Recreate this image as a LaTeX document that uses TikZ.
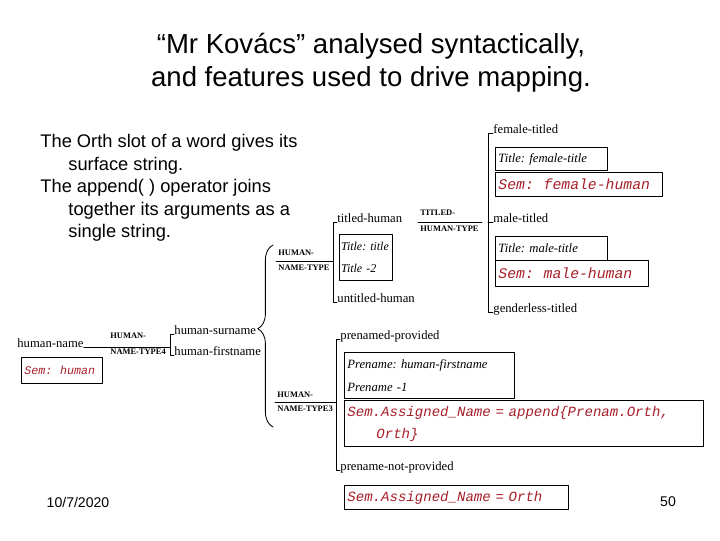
\documentclass[tikz,border=0pt]{standalone}
\usepackage{fontspec}
\setmainfont{Liberation Serif}
\setsansfont{Liberation Sans}
\setmonofont{Liberation Mono}
\usetikzlibrary{calc,decorations.pathreplacing}
\definecolor{semred}{RGB}{165,30,40}

\begin{document}
\frenchspacing
\begin{tikzpicture}[x=0.025cm, y=-0.025cm, line cap=round, line join=round, line width=0.6pt]
  \useasboundingbox (0,0) rectangle (720,540);
  \tikzset{
    lab/.style={anchor=west, inner sep=0pt, font=\fontsize{9}{11}\selectfont},
    typ/.style={anchor=west, inner sep=0pt, font=\fontsize{6}{7}\selectfont\bfseries},
    slot/.style={draw, anchor=north west, inner xsep=0.075cm, inner ysep=0pt, align=left,
      font=\fontsize{9}{16.3}\selectfont\itshape},
    sem/.style={slot, text=semred, font=\ttfamily\itshape\fontsize{#1}{15.6}\selectfont},
    sem/.default=10.5,
    big/.style={font=\sffamily\fontsize{13}{16}\selectfont}
  }

  % --- title and notes
  \node[font=\sffamily\fontsize{19.6}{23.4}\selectfont, align=center] (title) at (371,63)
    {“Mr Kovács” analysed syntactically,\\and features used to drive mapping.};

  \node[big, anchor=north west, align=left, inner sep=0pt] (notes) at (40,134)
    {The Orth slot of a word gives its\\
     \hspace*{0.7cm}surface string.\\
     The append( ) operator joins\\
     \hspace*{0.7cm}together its arguments as a\\
     \hspace*{0.7cm}single string.};

  % --- titled-human-type branch
  \node[lab] (femtit) at (493,129) {female-titled};
  \node[slot, text width=2.65cm, minimum height=0.575cm] (ftitle) at (495,147) {Title: female-title};
  \node[sem, text width=4.025cm, minimum height=0.6cm] (fsem) at (495,172) {Sem:\ \ female-human};
  \node[lab] (maltit) at (493,218) {male-titled};
  \node[slot, text width=2.65cm, minimum height=0.6cm] (mtitle) at (495,236) {Title: male-title};
  \node[sem, text width=3.675cm, minimum height=0.65cm] (msem) at (495,260) {Sem:\ \ male-human};
  \node[lab] (gentit) at (493,309) {genderless-titled};

  \node[typ] (thta) at (420,213) {TITLED-};
  \node[typ] (thtb) at (420,229) {HUMAN-TYPE};

  \draw (femtit.base west) -- ++(-5,0) coordinate (fbr) |- (gentit.base west);
  \draw (maltit.base west) -- (maltit.base west -| fbr);
  \draw ($(thtb.north west)+(-2,-3)$) -- ++(64,0);

  % --- human-name-type branch
  \node[lab] (tithum) at (337,218) {titled-human};
  \node[slot, inner xsep=0.04cm, text width=1.245cm, minimum height=1.15cm,
    font=\fontsize{8.5}{16.3}\selectfont\itshape] (ttitle) at (339,234) {Title: title\\Title -2};
  \node[lab] (untithum) at (337,298) {untitled-human};

  \node[typ] (hnta) at (278,253) {HUMAN-};
  \node[typ] (hntb) at (278,268) {NAME-TYPE};

  \draw (tithum.base west) -- ++(-4,0) coordinate (tbr) |- (untithum.base west);
  \draw ($(hntb.north west)+(-2,-3)$) coordinate (hntr) -- (hntr -| tbr);

  % --- human-name-type4 branch
  \node[lab] (hname) at (17,343) {human-name};
  \node[sem=8.3, text width=1.875cm, minimum height=0.65cm] (hsem) at (21,357) {Sem:\ \ human};
  \node[typ] (hfa) at (110,336) {HUMAN-};
  \node[typ] (hfb) at (110,352) {NAME-TYPE4};
  \node[lab] (hsur) at (174,330) {human-surname};
  \node[lab] (hfirst) at (174,351) {human-firstname};

  \draw (hsur.base west) -- ++(-4,0) coordinate (hbr) |- (hfirst.base west);
  \draw (hname.base east) -- (hname.base east -| hbr);

  % --- human-name-type3 branch
  \node[lab] (prenprov) at (340,336) {prenamed-provided};
  \node[slot, text width=4.1cm, minimum height=1.15cm] (pname) at (344,352)
    {Prename: human-firstname\\Prename -1};
  \node[sem=10, text width=8.825cm, minimum height=1.15cm] (passign) at (344,400)
    {Sem.Assigned\_Name = append\{Prenam.Orth,\\\hspace*{0.725cm}Orth\}};
  \node[lab] (prennot) at (340,467) {prename-not-provided};
  \node[sem=10, text width=5.45cm, minimum height=0.6cm] (nassign) at (344,485)
    {Sem.Assigned\_Name = Orth};

  \node[typ] (hpa) at (277,395) {HUMAN-};
  \node[typ] (hpb) at (277,409) {NAME-TYPE3};

  \draw (prenprov.base west) -- ++(-4,0) coordinate (pbr) |- (prennot.base west);
  \draw ($(hpb.north west)+(-2,-3)$) coordinate (hpr) -- (hpr -| pbr);

  % --- brace joining the two name types
  \coordinate (bt) at (273,245);
  \coordinate (bb) at (273,427);
  \draw[decorate, decoration={brace, amplitude=0.38cm, aspect=0.54}] (bb) -- (bt);

  % --- footer
  \node[font=\sffamily\fontsize{10}{12}\selectfont] (date) at (78,502) {10/7/2020};
  \node[font=\sffamily\fontsize{10}{12}\selectfont] (page) at (668,502) {50};
\end{tikzpicture}
\end{document}
